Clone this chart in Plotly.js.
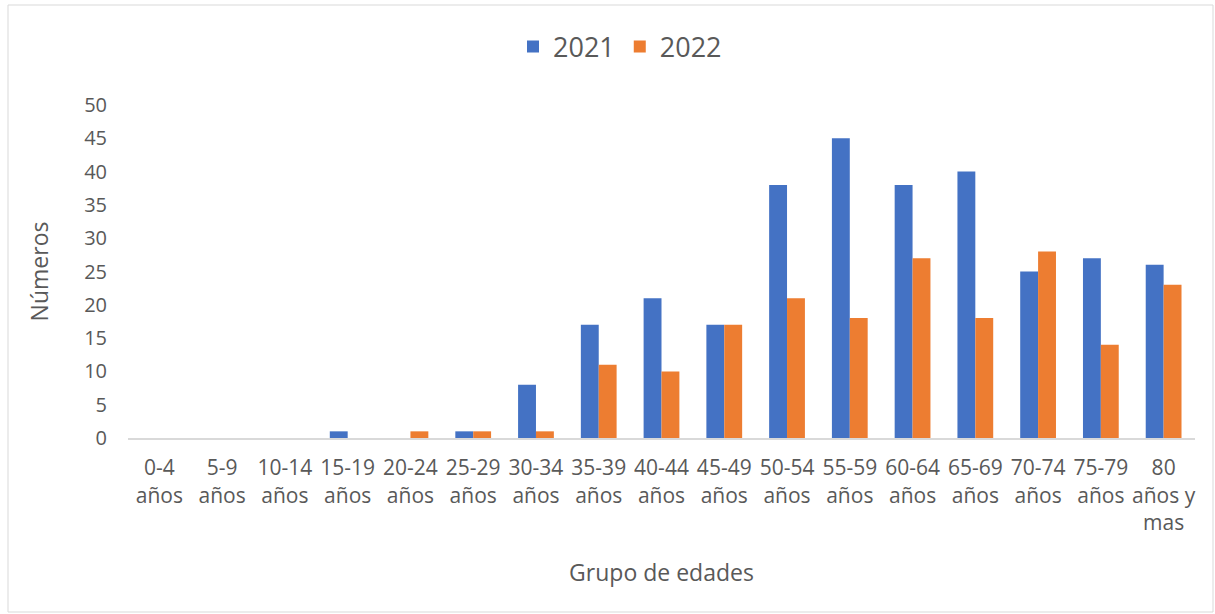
<!DOCTYPE html>
<html><head><meta charset="utf-8">
<script src="https://cdn.plot.ly/plotly-3.0.1.min.js"></script>
<style>html,body{margin:0;padding:0;background:#fff;}#chart{width:1215px;height:614px;}</style>
</head><body><div id="chart"></div>
<script>
const categories = ["0-4<br>años","5-9<br>años","10-14<br>años","15-19<br>años","20-24<br>años","25-29<br>años","30-34<br>años","35-39<br>años","40-44<br>años","45-49<br>años","50-54<br>años","55-59<br>años","60-64<br>años","65-69<br>años","70-74<br>años","75-79<br>años","80<br>años y<br>mas"];
const values2021 = [0,0,0,1,0,1,8,17,21,17,38,45,38,40,25,27,26];
const values2022 = [0,0,0,0,1,1,1,11,10,17,21,18,27,18,28,14,23];
const yTicks = [0,5,10,15,20,25,30,35,40,45,50];

const font = "'Open Sans', sans-serif";
const gray = "#595959";
const traces = [
  {type:'bar', name:'2021', x:categories, y:values2021, marker:{color:'#4472C4', line:{width:0}}},
  {type:'bar', name:'2022', x:categories, y:values2022, marker:{color:'#ED7D31', line:{width:0}}}
];
const layout = {
  width:1215, height:614,
  paper_bgcolor:'#fff', plot_bgcolor:'#fff',
  margin:{l:128, r:20, t:105, b:176, autoexpand:false},
  barmode:'group', bargap:0.43, bargroupgap:0,
  font:{family:font, color:gray, size:20},
  showlegend:true,
  legend:{orientation:'h', x:(620-128)/1067, xanchor:'center', xref:'paper', y:(438-47)/333, yanchor:'middle', font:{size:27, color:gray}, traceorder:'normal', itemwidth:30},
  xaxis:{type:'category', tickvals:categories, ticktext:categories, showgrid:false, zeroline:false, showline:true, linecolor:'#d9d9d9', linewidth:2, ticks:'', ticklabelstandoff:10, tickfont:{size:21, color:gray}, tickangle:0,
    title:{text:'Grupo de edades', font:{size:23, color:gray}, standoff:30}},
  yaxis:{range:[0,50], tickvals:yTicks, showgrid:false, zeroline:false, showline:false, ticks:'', ticklabelstandoff:20, tickfont:{size:20, color:gray},
    title:{text:'Números', font:{size:23, color:gray}, standoff:29}},
  shapes:[{type:'rect', xref:'paper', yref:'paper',
    x0:(8-128)/1067, x1:(1213-128)/1067, y0:-(612-438)/333, y1:(438-5)/333,
    line:{color:'#d9d9d9', width:1}, fillcolor:'rgba(0,0,0,0)', layer:'below'}]
};
Plotly.newPlot('chart', traces, layout, {displayModeBar:false, staticPlot:true});
</script></body></html>
